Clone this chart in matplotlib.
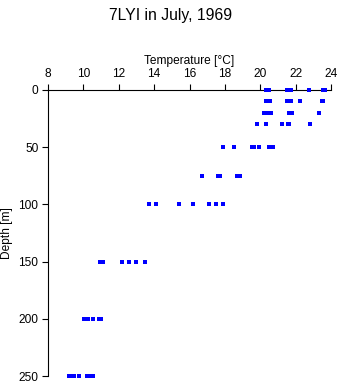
import matplotlib
matplotlib.use("Agg")
import matplotlib.pyplot as plt

plt.rcParams['font.family'] = ['Liberation Sans', 'DejaVu Sans']

# Temperature profiles (deg C) by sampling depth (m)
depths = [0, 10, 20, 30, 50, 75, 100, 150, 200, 250]
temps_0 = [20.32, 20.51, 21.53, 21.72, 22.77, 23.53, 23.66]
temps_10 = [20.34, 20.55, 21.51, 21.75, 22.26, 23.47, 23.56]
temps_20 = [20.23, 20.45, 20.6, 21.6, 21.7, 21.8, 23.34]
temps_30 = [19.83, 20.34, 21.25, 21.55, 21.64, 22.83]
temps_50 = [17.91, 18.53, 19.53, 19.67, 19.94, 20.51, 20.74]
temps_75 = [16.72, 17.61, 17.75, 18.68, 18.85]
temps_100 = [13.69, 14.1, 15.42, 16.21, 17.12, 17.51, 17.91]
temps_150 = [10.94, 11.09, 12.2, 12.6, 12.99, 13.5]
temps_200 = [10.04, 10.15, 10.28, 10.53, 10.88, 10.99]
temps_250 = [9.19, 9.30, 9.49, 9.77, 10.19, 10.37, 10.56]
profiles = [temps_0, temps_10, temps_20, temps_30, temps_50,
            temps_75, temps_100, temps_150, temps_200, temps_250]

xticks = [8, 10, 12, 14, 16, 18, 20, 22, 24]
yticks = [0, 50, 100, 150, 200, 250]

fig = plt.figure(figsize=(3.41, 3.84), dpi=100)
ax = fig.add_axes([48 / 341, 8 / 384, 283 / 341, 286 / 384])

for d, ts in zip(depths, profiles):
    ax.plot(ts, [d] * len(ts), linestyle='none', marker='s',
            markersize=2.3, color='#0000ff', markeredgewidth=0,
            clip_on=False, zorder=5)

ax.set_xlim(8, 24)
ax.set_ylim(250, 0)
ax.set_xticks(xticks)
ax.set_yticks(yticks)
ax.xaxis.tick_top()
ax.xaxis.set_label_position('top')
for side in ('right', 'bottom'):
    ax.spines[side].set_visible(False)
for side in ('top', 'left'):
    ax.spines[side].set_linewidth(0.8)
    ax.spines[side].set_color('black')
ax.tick_params(axis='both', length=4, width=0.8, labelsize=8.6, pad=3,
               direction='out')
ax.set_xlabel('Temperature [°C]', fontsize=8.6, labelpad=3)
ax.set_ylabel('Depth [m]', fontsize=8.6, labelpad=4)
fig.suptitle('7LYI in July, 1969', fontsize=11.3, y=0.978)

fig.savefig('out.png', dpi=100)
